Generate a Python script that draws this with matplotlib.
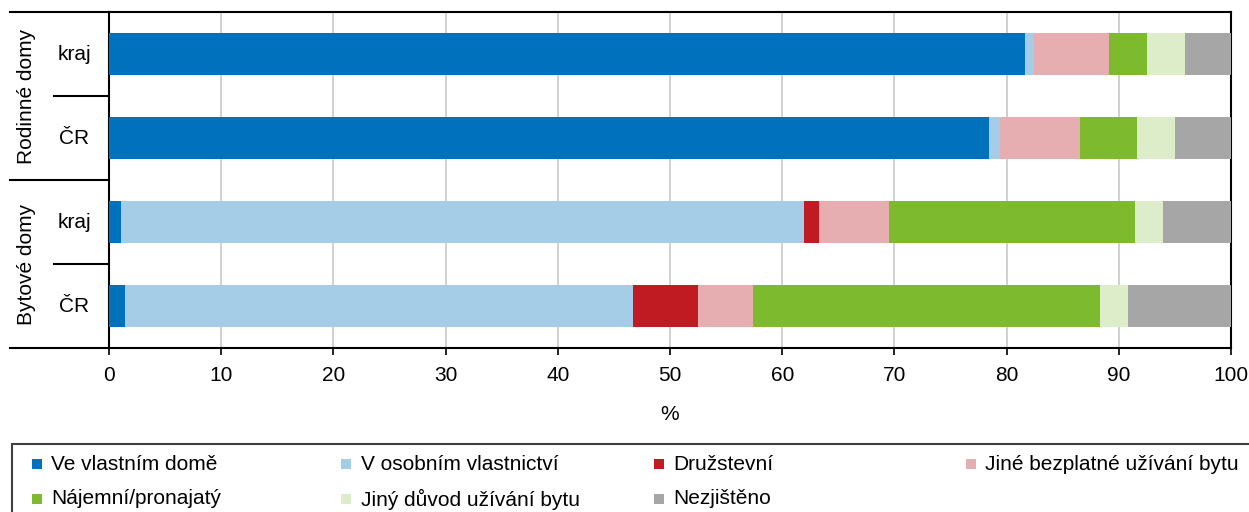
import matplotlib
matplotlib.use("Agg")
import matplotlib.pyplot as plt
from matplotlib.patches import Rectangle
from matplotlib.lines import Line2D
import numpy as np

plt.rcParams['font.family'] = ['Liberation Sans', 'DejaVu Sans']

# ---- data ----
groups = ["Rodinné domy", "Bytové domy"]
categories = ["kraj", "ČR", "kraj", "ČR"]
series_names = ["Ve vlastním domě", "V osobním vlastnictví", "Družstevní",
                "Jiné bezplatné užívání bytu", "Nájemní/pronajatý",
                "Jiný důvod užívání bytu", "Nezjištěno"]
ve_vlastnim = [81.6, 78.4, 1.1, 1.45]
osobni = [0.8, 1.0, 60.8, 45.25]
druzstevni = [0.0, 0.0, 1.4, 5.8]
jine_bezplatne = [6.7, 7.1, 6.2, 4.9]
najemni = [3.4, 5.1, 21.9, 30.9]
jiny_duvod = [3.4, 3.4, 2.5, 2.5]
nezjisteno = [4.1, 5.0, 6.1, 9.2]
xticks = [0, 10, 20, 30, 40, 50, 60, 70, 80, 90, 100]

colors = ["#0071bc", "#a6cde8", "#c01b23", "#e6aeb1", "#7eba2e", "#deedc9", "#a6a6a6"]
series = [ve_vlastnim, osobni, druzstevni, jine_bezplatne, najemni, jiny_duvod, nezjisteno]

W, H = 1249, 512
fig = plt.figure(figsize=(W / 100, H / 100), dpi=100)
fs = 15

ax_l, ax_r, ax_t, ax_b = 109, 1231, 12, 348
ax = fig.add_axes([ax_l / W, 1 - ax_b / H, (ax_r - ax_l) / W, (ax_b - ax_t) / H])

y = np.arange(len(categories))
left = np.zeros(len(categories))
for vals, col, name in zip(series, colors, series_names):
    ax.barh(y, vals, left=left, height=0.5, color=col, linewidth=0, label=name, zorder=3)
    left += np.array(vals)

ax.set_xlim(0, 100)
ax.set_ylim(len(categories) - 0.5, -0.5)
ax.set_xticks(xticks)
ax.set_xticklabels([str(v) for v in xticks], fontsize=fs)
ax.tick_params(axis='x', length=5, width=1.2, color='black', pad=8)
ax.set_yticks([])
ax.grid(axis='x', color='#c8c8c8', linewidth=1.2, zorder=0)
for s in ax.spines.values():
    s.set_color('black')
    s.set_linewidth(1.5)
ax.set_xlabel("%", fontsize=fs, labelpad=14)

def fy(py):
    return 1 - py / H

def fx(px):
    return px / W

row_h = (ax_b - ax_t) / len(categories)
for i, cat in enumerate(categories):
    cy = ax_t + row_h * (i + 0.5)
    fig.text(fx(74), fy(cy), cat, ha='center', va='center', fontsize=fs)

for g, name in enumerate(groups):
    cy = ax_t + row_h * (2 * g + 1)
    fig.text(fx(27), fy(cy), name, ha='center', va='center', rotation=90, fontsize=fs)

for py in [ax_t, ax_t + 2 * row_h, ax_b]:
    fig.add_artist(Line2D([fx(10), fx(ax_l)], [fy(py), fy(py)], color='black', lw=1.5))
for py in [ax_t + row_h, ax_t + 3 * row_h]:
    fig.add_artist(Line2D([fx(54), fx(ax_l)], [fy(py), fy(py)], color='black', lw=1.5))

# legend (manual, row-major, 4 columns)
fig.add_artist(Rectangle((fx(12), fy(520)), fx(1260) - fx(12), fy(444) - fy(520),
                         transform=fig.transFigure, fill=False, edgecolor='#404040',
                         linewidth=1.5, clip_on=False))
sq_x = [32, 341, 654, 966]
txt_x = [51, 361, 673, 985]
row_y = [464, 499]
for i, (name, col) in enumerate(zip(series_names, colors)):
    r, c = divmod(i, 4)
    fig.add_artist(Rectangle((fx(sq_x[c]), fy(row_y[r] + 5)), fx(10), 10 / H,
                             transform=fig.transFigure, facecolor=col, edgecolor='none'))
    fig.text(fx(txt_x[c]), fy(row_y[r]), name, ha='left', va='center', fontsize=fs)

fig.savefig("out.png", dpi=100)
